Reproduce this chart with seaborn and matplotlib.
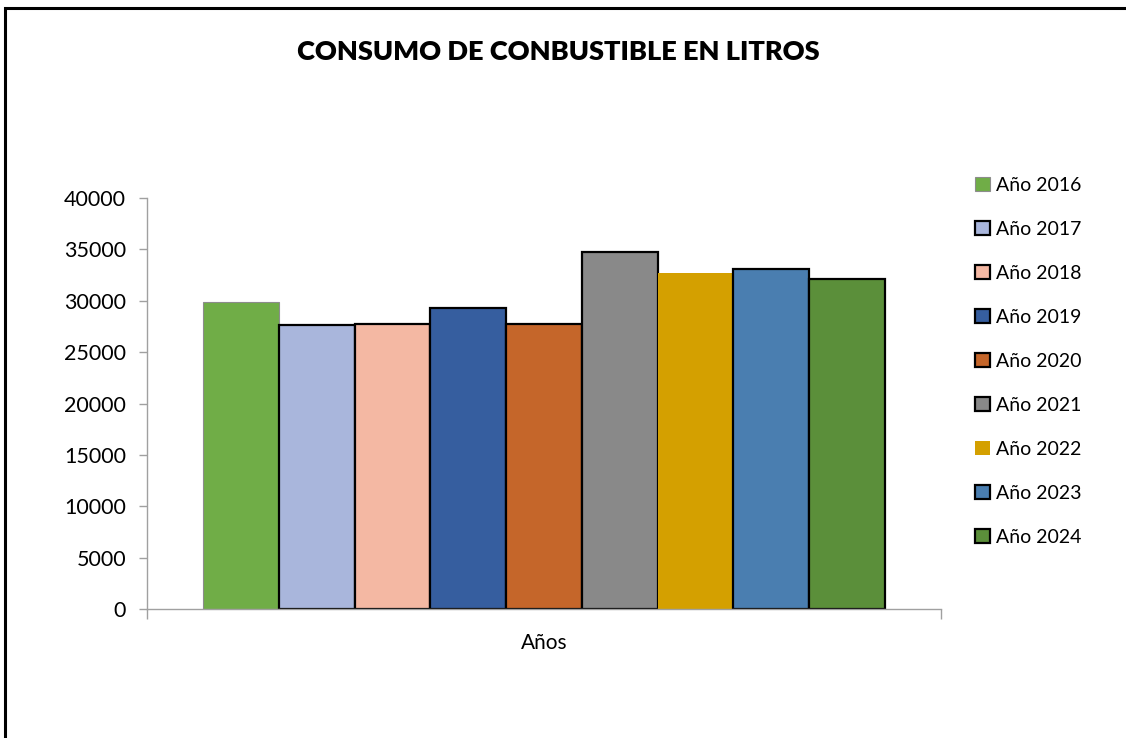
import numpy as np
import pandas as pd
import seaborn as sns
from matplotlib import pyplot as plt
from matplotlib.patches import Rectangle

# data
years = ["Año 2016", "Año 2017", "Año 2018", "Año 2019", "Año 2020",
         "Año 2021", "Año 2022", "Año 2023", "Año 2024"]
consumo = [29900, 27650, 27750, 29300, 27750, 34700, 32700, 33100, 32100]
colors = ["#70AD47", "#A9B6DC", "#F4B8A3", "#365E9F", "#C5662A",
          "#898989", "#D4A000", "#4A7EB0", "#5B8F3A"]
edges = ["#8c8c8c", "black", "black", "black", "black",
         "black", "none", "black", "black"]
category = "Años"

sns.set_theme(style='white')
plt.rcParams['font.family'] = ['Lato', 'DejaVu Sans']
plt.rcParams['text.color'] = 'black'
plt.rcParams['xtick.labelcolor'] = 'black'
plt.rcParams['ytick.labelcolor'] = 'black'

df = pd.DataFrame({"cat": [category] * len(years), "year": years, "value": consumo})

fig = plt.figure(figsize=(11.26, 7.38), dpi=100)
ax = fig.add_axes([0.1306, 0.1748, 0.8357 - 0.1306, 0.7317 - 0.1748])

sns.barplot(data=df, x="cat", y="value", hue="year", palette=colors,
            hue_order=years, width=0.858, gap=0, ax=ax, saturation=1, legend=True)

for bar, ec in zip(ax.patches, edges):
    if ec == "none":
        bar.set_edgecolor("none")
    else:
        bar.set_edgecolor(ec)
        bar.set_linewidth(0.8 if ec != "black" else 1.6)

ax.set_ylim(0, 40000)
ax.set_xlim(-0.5, 0.5)
ax.set_yticks(np.arange(0, 40001, 5000))
ax.tick_params(axis='y', labelsize=15.5, length=6, width=1, color='#a0a0a0',
               direction='out', left=True, pad=9, labelcolor='black')
ax.set_xticks([0])
ax.set_xticklabels([category], fontsize=15, color='black')
ax.set_xticks([-0.5, 0.5], minor=True)
ax.tick_params(axis='x', which='major', length=0, pad=17, labelcolor='black')
ax.tick_params(axis='x', which='minor', length=7, width=1, color='#a0a0a0',
               direction='out', bottom=True)
ax.set_xlabel("")
ax.set_ylabel("")
for side in ["top", "right"]:
    ax.spines[side].set_visible(False)
for side in ["left", "bottom"]:
    ax.spines[side].set_color('#a0a0a0')
    ax.spines[side].set_linewidth(1)

handles, labels = ax.get_legend_handles_labels()
for h, ec in zip(handles, edges):
    if ec == "none":
        h.set_edgecolor("none")
    else:
        h.set_edgecolor(ec)
        h.set_linewidth(1.6 if ec == "black" else 0.8)
leg = ax.legend(handles, labels, loc='upper left', bbox_to_anchor=(0.859, 0.7705),
                bbox_transform=fig.transFigure, frameon=False, fontsize=14,
                handlelength=0.75, handleheight=0.75, handletextpad=0.35,
                labelspacing=1.386, borderaxespad=0)
for t in leg.get_texts():
    t.set_color('black')

fig.text(0.496, 0.930, "CONSUMO DE CONBUSTIBLE EN LITROS", ha='center', va='center',
         fontsize=19.5, fontweight='heavy', color='black')

# outer chart border (top and left visible)
fig.patches.append(Rectangle((5 / 1126, -0.1), 1.2, 1 - 8 / 738 + 0.1,
                             transform=fig.transFigure, fill=False,
                             edgecolor='black', linewidth=2.2, zorder=0))

fig.savefig("out.png", dpi=100)
